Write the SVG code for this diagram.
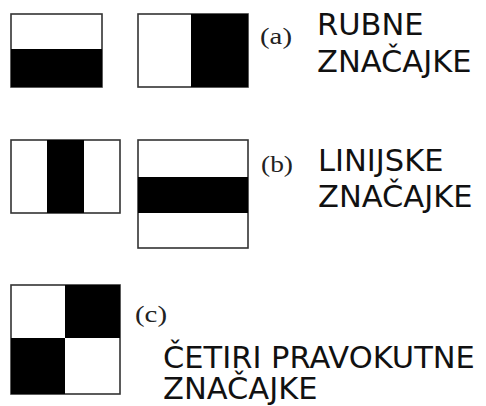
<svg xmlns="http://www.w3.org/2000/svg" width="486" height="406" viewBox="0 0 486 406">
<style>
.frame{fill:#fff;stroke:#333;stroke-width:1.6}
.blk{fill:#000}
.lbl{font-family:"Liberation Serif",serif;font-size:23px;fill:#222}
.cap{font-family:"DejaVu Sans",sans-serif;font-size:30.5px;fill:#111}
</style>
<rect width="486" height="406" fill="#fff"/>
<g id="a1"><rect class="frame" x="11" y="14" width="91" height="73"/><rect class="blk" x="11" y="49" width="91" height="38"/></g>
<g id="a2"><rect class="frame" x="138" y="14" width="110" height="73"/><rect class="blk" x="191" y="14" width="57" height="73"/></g>
<g id="a-label"><text class="lbl" x="260" y="44" textLength="32" lengthAdjust="spacingAndGlyphs">(a)</text><text class="cap"><tspan x="317" y="35">RUBNE</tspan><tspan x="317" y="72">ZNAČAJKE</tspan></text></g>
<g id="b1"><rect class="frame" x="11" y="140" width="109" height="73"/><rect class="blk" x="47" y="140" width="37" height="73"/></g>
<g id="b2"><rect class="frame" x="138" y="140" width="110" height="108"/><rect class="blk" x="138" y="177" width="110" height="36"/></g>
<g id="b-label"><text class="lbl" x="261" y="172" textLength="32" lengthAdjust="spacingAndGlyphs">(b)</text><text class="cap"><tspan x="318" y="171">LINIJSKE</tspan><tspan x="318" y="207">ZNAČAJKE</tspan></text></g>
<g id="c1"><rect class="frame" x="11" y="285" width="109" height="109"/><rect class="blk" x="65" y="285" width="55" height="53"/><rect class="blk" x="11" y="338" width="54" height="56"/></g>
<g id="c-label"><text class="lbl" x="135" y="322" textLength="32" lengthAdjust="spacingAndGlyphs">(c)</text><text class="cap"><tspan x="163" y="368">ČETIRI PRAVOKUTNE</tspan><tspan x="163" y="399">ZNAČAJKE</tspan></text></g>
<g id="connectors"/>
</svg>
